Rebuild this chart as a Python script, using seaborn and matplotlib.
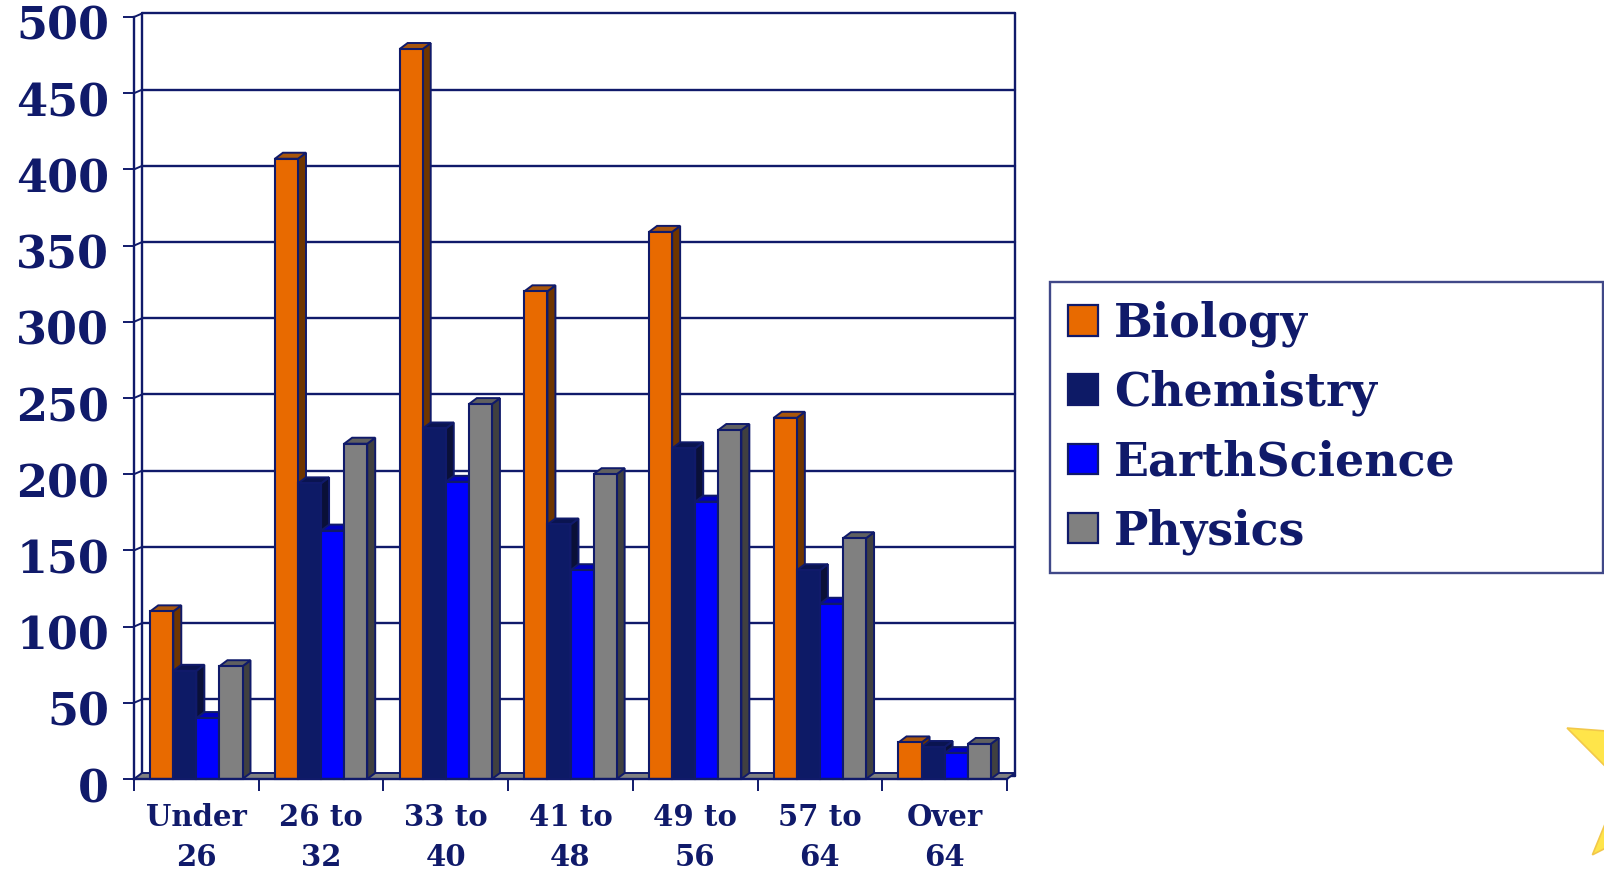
import matplotlib
matplotlib.use('Agg')
import matplotlib.pyplot as plt
from matplotlib.patches import Polygon, Patch
from matplotlib.transforms import ScaledTranslation
import numpy as np
import pandas as pd
import seaborn as sns

# Data
age_groups = ['Under 26', '26 to 32', '33 to 40', '41 to 48', '49 to 56', '57 to 64', 'Over 64']
tick_labels = ['Under\n26', '26 to\n32', '33 to\n40', '41 to\n48', '49 to\n56', '57 to\n64', 'Over\n64']
subjects = ['Biology', 'Chemistry', 'EarthScience', 'Physics']
biology = [110, 407, 479, 320, 359, 237, 24]
chemistry = [71, 194, 230, 167, 217, 137, 21]
earth_science = [40, 163, 195, 137, 182, 115, 17]
physics = [74, 220, 246, 200, 229, 158, 23]
y_ticks = [0, 50, 100, 150, 200, 250, 300, 350, 400, 450, 500]

front_colors = ['#E86A00', '#0D1A66', '#0000FF', '#808080']
side_colors = ['#6E3500', '#0A1038', '#00009A', '#404040']
top_colors = ['#A8560C', '#0A1450', '#0000C0', '#606060']
navy = '#101A6A'

df = pd.DataFrame({
    'age': age_groups * 4,
    'subject': np.repeat(subjects, len(age_groups)),
    'value': biology + chemistry + earth_science + physics,
})

sns.set_style('white')
plt.rcParams['font.family'] = ['DejaVu Serif']
plt.rcParams['font.weight'] = 'bold'

W, H = 1604, 872
fig = plt.figure(figsize=(W / 100, H / 100), dpi=100)
ax = fig.add_axes([134 / W, (H - 779) / H, 873 / W, 762 / H])

sns.barplot(data=df, x='age', y='value', hue='subject', order=age_groups,
            hue_order=subjects, palette=front_colors, width=0.74, gap=0,
            saturation=1, edgecolor=navy, linewidth=1.5, legend=False, ax=ax)

ax.set_xlim(-0.5, 6.5)
ax.set_ylim(0, 500)

# pixel -> data conversions for the fake depth
ux = 124.7
uy = 762 / 500
bdx, bdy = 8 / ux, 6 / uy      # bar depth
wdx, wdy = 8 / ux, 3.5 / uy    # back wall offset

# back wall frame and gridlines
for v in y_ticks:
    ax.plot([-0.5 + wdx, 6.5 + wdx], [v + wdy, v + wdy], color=navy, lw=1.7,
            zorder=0.5, clip_on=False)
    ax.plot([-0.5, -0.5 + wdx], [v, v + wdy], color=navy, lw=1.4,
            zorder=0.5, clip_on=False)
ax.plot([-0.5 + wdx, -0.5 + wdx], [wdy, 500 + wdy], color=navy, lw=1.7, zorder=0.5, clip_on=False)
ax.plot([6.5 + wdx, 6.5 + wdx], [wdy, 500 + wdy], color=navy, lw=1.7, zorder=0.5, clip_on=False)

# floor
floor = Polygon([(-0.5, 0), (6.5, 0), (6.5 + bdx, bdy), (-0.5 + bdx, bdy)], closed=True,
                facecolor='#808080', edgecolor=navy, lw=1.4, zorder=0.8, clip_on=False)
ax.add_patch(floor)

# 3D side and top faces from the seaborn bars
for k, cont in enumerate(ax.containers):
    for bar in cont:
        x0 = bar.get_x()
        w = bar.get_width()
        h = bar.get_height()
        x1 = x0 + w
        side = Polygon([(x1, 0), (x1, h), (x1 + bdx, h + bdy), (x1 + bdx, bdy)], closed=True,
                       facecolor=side_colors[k], edgecolor=navy, lw=1.4,
                       zorder=3 + 2 * k, clip_on=False)
        top = Polygon([(x0, h), (x1, h), (x1 + bdx, h + bdy), (x0 + bdx, h + bdy)], closed=True,
                      facecolor=top_colors[k], edgecolor=navy, lw=1.4,
                      zorder=3 + 2 * k, clip_on=False)
        ax.add_patch(side)
        ax.add_patch(top)
        bar.set_zorder(4 + 2 * k)
        bar.set_clip_on(False)

# axes styling
for s in ['top', 'right']:
    ax.spines[s].set_visible(False)
for s in ['left', 'bottom']:
    ax.spines[s].set_color(navy)
    ax.spines[s].set_linewidth(1.7)
    ax.spines[s].set_zorder(20)

ax.set_yticks(y_ticks)
ax.set_yticklabels([str(v) for v in y_ticks])
ax.tick_params(axis='y', direction='out', length=8, width=1.4, color=navy,
               labelcolor=navy, labelsize=32, pad=10, left=True)
offset = ScaledTranslation(0, -0.06, fig.dpi_scale_trans)
for lab in ax.get_yticklabels():
    lab.set_fontweight('bold')
    lab.set_transform(lab.get_transform() + offset)

ax.set_xticks(np.arange(-0.5, 7.0, 1.0))
ax.set_xticklabels([])
ax.set_xticks(np.arange(7), tick_labels, minor=True)
ax.tick_params(axis='x', which='major', direction='out', length=8.5, width=1.4,
               color=navy, bottom=True)
ax.tick_params(axis='x', which='minor', length=0, labelcolor=navy, labelsize=21, pad=17)
for lab in ax.get_xticklabels(minor=True):
    lab.set_fontweight('bold')
    lab.set_linespacing(1.5)
ax.set_xlabel('')
ax.set_ylabel('')

# legend
handles = [Patch(facecolor=c, edgecolor=navy, lw=1.6) for c in front_colors]
leg = fig.legend(handles, subjects, loc='center left',
                 bbox_to_anchor=(1050 / W, 1 - 567 / H, (1603 - 1050) / W, (567 - 288) / H),
                 mode='expand', fontsize=33, frameon=True, fancybox=False,
                 handlelength=0.65, handleheight=0.65, handletextpad=0.35,
                 labelspacing=0.5, borderpad=0.4, borderaxespad=0)
leg.get_frame().set_edgecolor(navy)
leg.get_frame().set_linewidth(1.7)
for t in leg.get_texts():
    t.set_color(navy)
    t.set_fontweight('bold')

# decorative star, partly off the right edge
cx, cy, R, r = 1667, 774, 110, 46
a0 = np.arctan2(728 - cy, 1567 - cx)
pts = []
for i in range(10):
    rad = R if i % 2 == 0 else r
    a = a0 + i * np.pi / 5
    pts.append(((cx + rad * np.cos(a)) / W, 1 - (cy + rad * np.sin(a)) / H))
star = Polygon(pts, closed=True, facecolor='#FFE54A', edgecolor='#F2C84A', lw=1.2,
               transform=fig.transFigure, zorder=30)
fig.add_artist(star)

fig.savefig('out.png', dpi=100, facecolor='white')
